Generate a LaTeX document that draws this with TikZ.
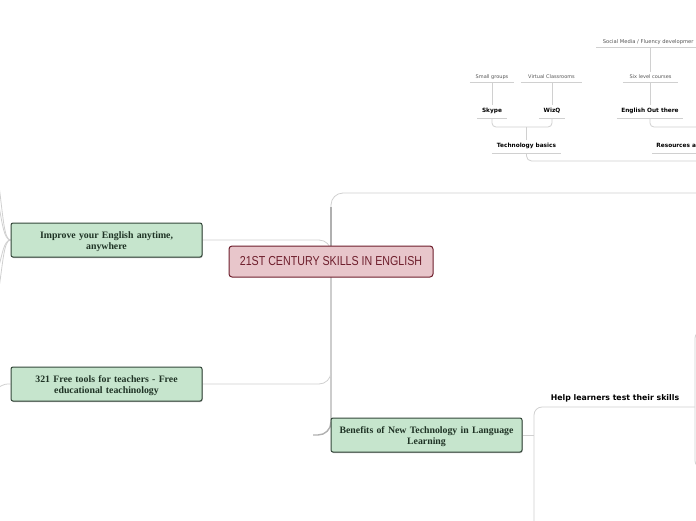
\documentclass[tikz,border=0pt]{standalone}
\usepackage{fontspec}
\setmainfont{Liberation Serif}
\newfontfamily\dv{DejaVu Sans}
\newfontfamily\cfont[FakeStretch=0.82]{Liberation Sans}
\usetikzlibrary{shadows,backgrounds}
\definecolor{gfill}{HTML}{C6E5CD}
\definecolor{gdraw}{HTML}{34473A}
\definecolor{gtext}{HTML}{1F3325}
\definecolor{pfill}{HTML}{E8C6CB}
\definecolor{pdraw}{HTML}{6E1E2C}
\definecolor{lgray}{HTML}{D0D0D0}
\definecolor{tgray}{HTML}{B0B0B0}
\definecolor{stext}{HTML}{555555}
\begin{document}
\begin{tikzpicture}[x=1pt,y=-1pt,
  conn/.style={draw=lgray,line width=0.8pt},
  trunk/.style={draw=tgray,line width=1.4pt},
  rootbox/.style={draw=pdraw,fill=pfill,line width=1pt,rounded corners=3pt,minimum width=204pt,minimum height=31pt,inner sep=0pt,font=\cfont\fontsize{13}{15}\selectfont,text=pdraw},
  topic/.style={draw=gdraw,fill=gfill,line width=1pt,rounded corners=2pt,minimum width=191pt,minimum height=34pt,text width=187pt,align=center,inner sep=0pt,font=\bfseries\fontsize{9.8}{11}\selectfont,text=gtext,execute at begin node={\rule{0pt}{10.5pt}},drop shadow={shadow xshift=0.5pt,shadow yshift=-1pt,opacity=0.3,fill=black}},
  leaf/.style={anchor=south,inner xsep=0pt,inner ysep=2.5pt,font=\dv\fontsize{5}{6}\selectfont,text=stext,text height=3.8pt,text depth=1.2pt},
  sub/.style={anchor=south,inner xsep=0pt,inner ysep=3.5pt,font=\dv\bfseries\fontsize{5.8}{7}\selectfont,text=black,text height=4.4pt,text depth=1.4pt},
  helpbox/.style={anchor=south,inner sep=0pt,font=\dv\bfseries\fontsize{7.8}{9}\selectfont,text=black,text height=6pt,text depth=1.6pt},
  uline/.style={draw=lgray,line width=0.7pt}
]
\useasboundingbox (0,0) rectangle (696,520);
\clip (0,0) rectangle (696,520);

% main nodes
\node[rootbox] (root) at (331,261.5) {21ST CENTURY SKILLS IN ENGLISH};
\node[topic] (imp) at (106.5,240) {Improve your English anytime,\\ anywhere};
\node[topic] (free) at (106.5,384) {321 Free tools for teachers - Free\\ educational teachinology};
\node[topic] (ben) at (426.5,435) {Benefits of New Technology in Language\\ Learning};
\node[helpbox] (help) at (615,402.6) {Help learners test their skills};

% top cluster
\node[leaf,minimum width=44pt] (sg) at (492,82) {Small groups};
\node[leaf,minimum width=61pt] (vc) at (551.5,82) {Virtual Classrooms};
\node[sub,minimum width=29pt] (sky) at (492,118) {Skype};
\node[sub,minimum width=26pt] (wiz) at (552,118) {WizQ};
\node[sub,minimum width=69pt] (tech) at (526.5,153) {Technology basics};
\node[sub,minimum width=66pt] (eng) at (650,118) {English Out there};
\node[leaf,minimum width=55pt] (six) at (650.5,82) {Six level courses};
\node[leaf,anchor=south west,inner xsep=4pt,minimum width=104pt,font=\dv\fontsize{5.2}{6}\selectfont] (soc) at (596,47) {Social Media / Fluency developmer};
\node[sub,anchor=south west,inner xsep=4pt,minimum width=48pt] (res) at (652,153) {Resources a};
\foreach \n in {sg,vc,sky,wiz,tech,eng,six,soc,res}
  \draw[uline] (\n.south west) -- (\n.south east);

\begin{pgfonlayer}{background}
  \coordinate (topR) at (702,193);
  \coordinate (trunkTop) at (331,207);
  \coordinate (trunkEnd) at (313,435);
  \draw[conn,rounded corners=12] (topR) -- (331,193) -- (trunkTop);
  \draw[trunk] (trunkTop) -- (root.center);
  \draw[trunk,rounded corners=13] (root.center) -- (root.center |- ben.center) -- (trunkEnd);
  \draw[conn,rounded corners=12] (imp.east) -- (imp.east -| root.center) -- (root.center);
  \draw[conn,rounded corners=12] (free.east) -- (free.east -| root.center) -- (root.center);
  % benefits branch
  \coordinate (bb) at (534,435);
  \coordinate (bbot) at (534,525);
  \coordinate (hcorner) at (534,407);
  \coordinate (hend) at (695,407);
  \draw[conn] (ben.east) -- (bb);
  \draw[conn,rounded corners=8] (bbot) -- (hcorner) -- (hend);
  \coordinate (rb1) at (702,332);
  \coordinate (rb2) at (702,467);
  \draw[conn,rounded corners=6] (rb1) -- (695,332) -- (695,467) -- (rb2);
  % left edge branches
  \coordinate (la) at (-1,186);
  \coordinate (lb) at (-1,206);
  \coordinate (lc) at (-1,266);
  \coordinate (ld) at (-1,288);
  \coordinate (le) at (-1,387);
  \draw[conn] (imp.west) .. controls (4,240) and (3,215) .. (la);
  \draw[conn] (imp.west) .. controls (4,240) and (2,222) .. (lb);
  \draw[conn] (imp.west) .. controls (4,240) and (2,255) .. (lc);
  \draw[conn] (imp.west) .. controls (4,240) and (3,262) .. (ld);
  \draw[conn] (free.west) .. controls (5,384) .. (le);
  % top cluster connectors
  \coordinate (b1) at (526.5,127);
  \coordinate (rA) at (702,127);
  \coordinate (rB) at (702,161);
  \draw[conn,rounded corners=4] (sky.south) |- (b1) -| (wiz.south);
  \draw[conn] (tech.north) -- (b1);
  \draw[conn] (sky.north |- sg.south) -- (sky.north);
  \draw[conn] (wiz.north |- vc.south) -- (wiz.north);
  \draw[conn] (eng.north |- six.south) -- (eng.north);
  \draw[conn] (eng.north |- soc.south) -- (eng.north |- six.north);
  \draw[conn,rounded corners=4] (eng.south) |- (rA);
  \draw[conn,rounded corners=5] (tech.south) |- (rB);
\end{pgfonlayer}
\end{tikzpicture}
\end{document}
